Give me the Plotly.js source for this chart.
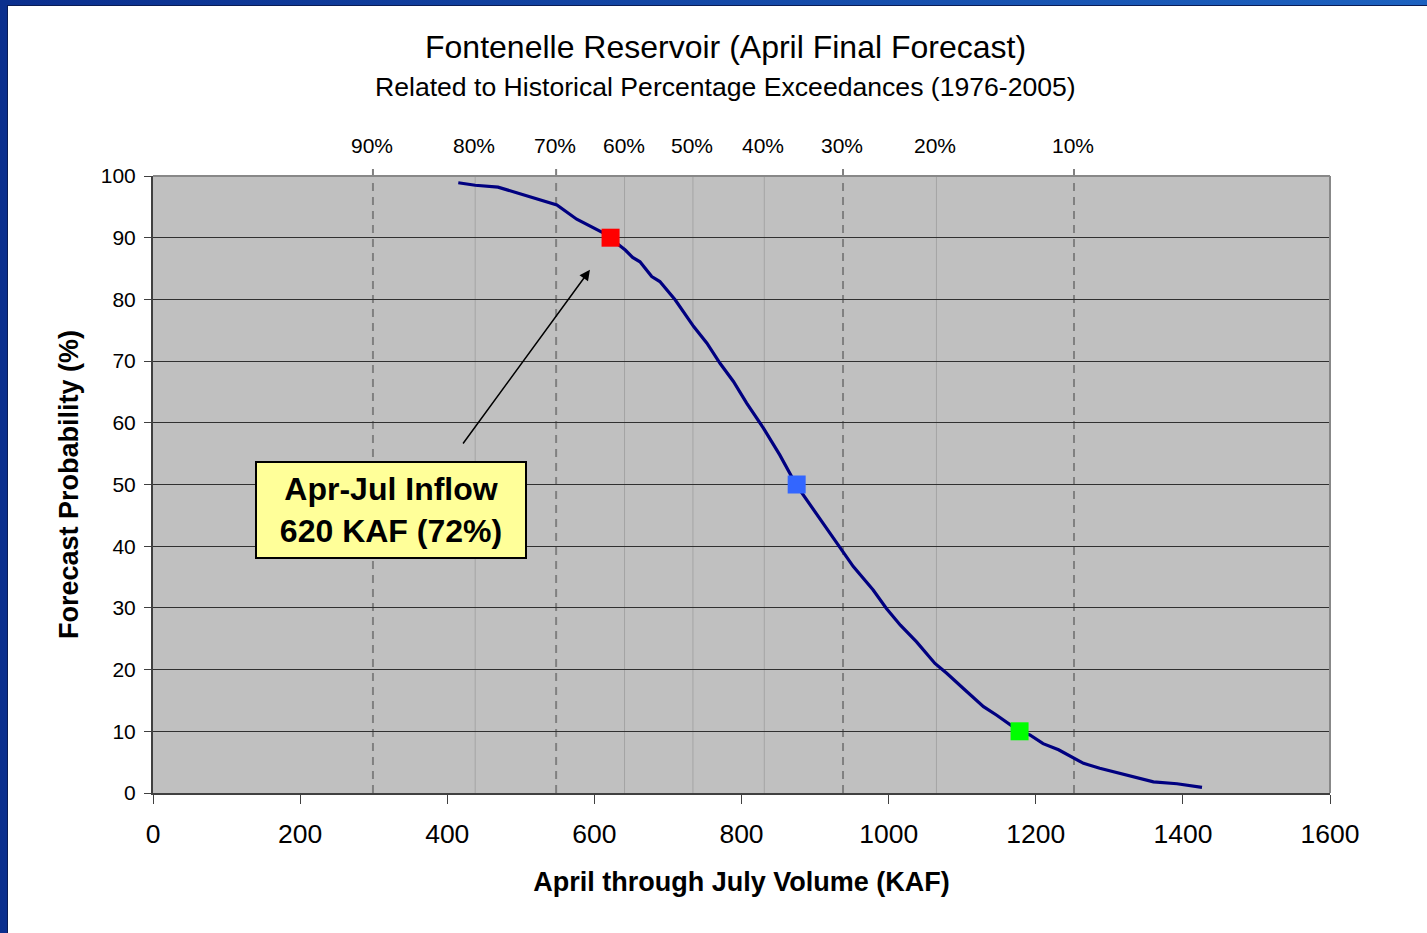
<!DOCTYPE html>
<html>
<head>
<meta charset="utf-8">
<script src="https://cdn.plot.ly/plotly-3.0.1.min.js"></script>
<style>
html, body { margin: 0; padding: 0; width: 1427px; height: 933px; overflow: hidden; }
body { background: linear-gradient(to right, #0b2f8e, #1d62c0); }
#frame { position: absolute; left: 7px; top: 5px; width: 1420px; height: 928px; background: #0a1c55; }
#chart { position: absolute; left: 8px; top: 6px; width: 1419px; height: 927px; background: #ffffff; }
</style>
</head>
<body>
<div id="frame"></div>
<div id="chart"></div>
<script>
// Exceedance curve (April-July volume in KAF vs forecast probability in %)
const curveVolume = [415, 438, 469, 549, 576, 612, 621, 642, 652, 662, 678, 689, 710, 735, 753, 771, 789, 807, 830, 852, 874, 898, 934, 952, 979, 997, 1016, 1038, 1063, 1079, 1102, 1129, 1147, 1178, 1192, 1210, 1231, 1265, 1287, 1324, 1360, 1392, 1426];
const curveProb   = [98.9, 98.5, 98.2, 95.3, 93.0, 90.8, 90.0, 88.0, 86.8, 86.1, 83.7, 82.9, 79.9, 75.6, 72.9, 69.6, 66.7, 63.2, 59.1, 54.8, 50.0, 45.9, 39.9, 36.7, 32.9, 29.9, 27.2, 24.5, 21.0, 19.4, 16.9, 14.0, 12.6, 10.0, 9.4, 8.0, 7.0, 4.8, 4.0, 2.9, 1.8, 1.5, 0.9];

// Highlighted forecast points
const markerVolume = [622, 875, 1178];
const markerProb   = [90, 50, 10];
const markerColors = ['#ff0000', '#3366ff', '#00ff00'];

// Historical percentage exceedances (1976-2005)
const pctLabels = ['90%', '80%', '70%', '60%', '50%', '40%', '30%', '20%', '10%'];
const pctVolume = [299, 438, 548, 641, 734, 831, 938, 1065, 1252];
const pctDashed = [true, false, true, false, false, false, true, false, true];

// Callout
const calloutLines = ['Apr-Jul Inflow', '620 KAF (72%)'];
const calloutPos = [323, 45.9];
const arrowHead = [594, 84.8];
const arrowTail = [420, 56.4];

const FONT = 'Arial, "Liberation Sans", sans-serif';

const shapes = [];
const annotations = [];

pctVolume.forEach((v, i) => {
  if (pctDashed[i]) {
    shapes.push({type: 'line', layer: 'between', xref: 'x', yref: 'paper', x0: v, x1: v, y0: 0, y1: 1.012,
      line: {color: '#808080', width: 2, dash: '8px,6px'}});
  } else {
    shapes.push({type: 'line', layer: 'between', xref: 'x', yref: 'paper', x0: v, x1: v, y0: 0, y1: 1,
      line: {color: '#a4a4a4', width: 1}});
  }
  annotations.push({xref: 'x', yref: 'paper', x: v, y: 1.05, xshift: -1, text: pctLabels[i], showarrow: false,
    font: {family: FONT, size: 21, color: '#000000'}, xanchor: 'center', yanchor: 'middle'});
});

// plot area top and right edges (gray)
shapes.push({type: 'line', layer: 'above', xref: 'paper', yref: 'paper', x0: 0, x1: 1, y0: 1, y1: 1, line: {color: '#888888', width: 2}});
shapes.push({type: 'line', layer: 'above', xref: 'paper', yref: 'paper', x0: 1, x1: 1, y0: 0, y1: 1, line: {color: '#888888', width: 2}});

annotations.push({xref: 'paper', yref: 'paper', x: 0.486, y: 1.209, text: 'Fontenelle Reservoir (April Final Forecast)',
  showarrow: false, font: {family: FONT, size: 32, color: '#000000'}, xanchor: 'center', yanchor: 'middle'});
annotations.push({xref: 'paper', yref: 'paper', x: 0.486, y: 1.144, text: 'Related to Historical Percentage Exceedances (1976-2005)',
  showarrow: false, font: {family: FONT, size: 26.6, color: '#000000'}, xanchor: 'center', yanchor: 'middle'});

annotations.push({xref: 'x', yref: 'y', x: arrowHead[0], y: arrowHead[1], axref: 'x', ayref: 'y',
  ax: arrowTail[0], ay: arrowTail[1], text: '', showarrow: true, arrowhead: 2, arrowsize: 1.4, arrowwidth: 1.5, arrowcolor: '#000000'});

annotations.push({xref: 'x', yref: 'y', x: calloutPos[0], y: calloutPos[1],
  text: calloutLines.map(s => '<b>' + s + '</b>').join('<br>'),
  showarrow: false, font: {family: FONT, size: 32, color: '#000000'}, bgcolor: '#ffff99', bordercolor: '#000000',
  borderwidth: 2, borderpad: 2, width: 264, height: 90, align: 'center', valign: 'middle'});

const traces = [
  {x: curveVolume, y: curveProb, type: 'scatter', mode: 'lines', line: {color: '#000080', width: 3.2}, hoverinfo: 'skip'},
  {x: markerVolume, y: markerProb, type: 'scatter', mode: 'markers',
    marker: {symbol: 'square', size: 18, color: markerColors, line: {width: 0}}, hoverinfo: 'skip'}
];

const layout = {
  width: 1419, height: 927,
  margin: {l: 145, r: 97, t: 170, b: 140},
  paper_bgcolor: '#ffffff', plot_bgcolor: '#c0c0c0',
  showlegend: false,
  font: {family: FONT, color: '#000000'},
  xaxis: {
    range: [0, 1600], tickvals: [0, 200, 400, 600, 800, 1000, 1200, 1400, 1600],
    showgrid: false, zeroline: false, showline: true, linecolor: '#404040', linewidth: 2,
    ticks: 'outside', ticklen: 9, tickcolor: '#404040', tickwidth: 1, ticklabelstandoff: 7,
    tickfont: {family: FONT, size: 26.5, color: '#000000'},
    title: {text: '<b>April through July Volume (KAF)</b>', font: {family: FONT, size: 27, color: '#000000'}, standoff: 24},
    automargin: false, fixedrange: true
  },
  yaxis: {
    range: [0, 100], tickvals: [0, 10, 20, 30, 40, 50, 60, 70, 80, 90, 100],
    showgrid: true, gridcolor: '#303030', gridwidth: 1, zeroline: false,
    showline: true, linecolor: '#404040', linewidth: 2,
    ticks: 'outside', ticklen: 7, tickcolor: '#404040', tickwidth: 1, ticklabelstandoff: 4,
    tickfont: {family: FONT, size: 21, color: '#000000'},
    title: {text: '<b>Forecast Probability (%)</b>', font: {family: FONT, size: 27, color: '#000000'}, standoff: 14},
    automargin: false, fixedrange: true
  },
  shapes: shapes,
  annotations: annotations
};

Plotly.newPlot('chart', traces, layout, {staticPlot: true, displayModeBar: false});
</script>
</body>
</html>
